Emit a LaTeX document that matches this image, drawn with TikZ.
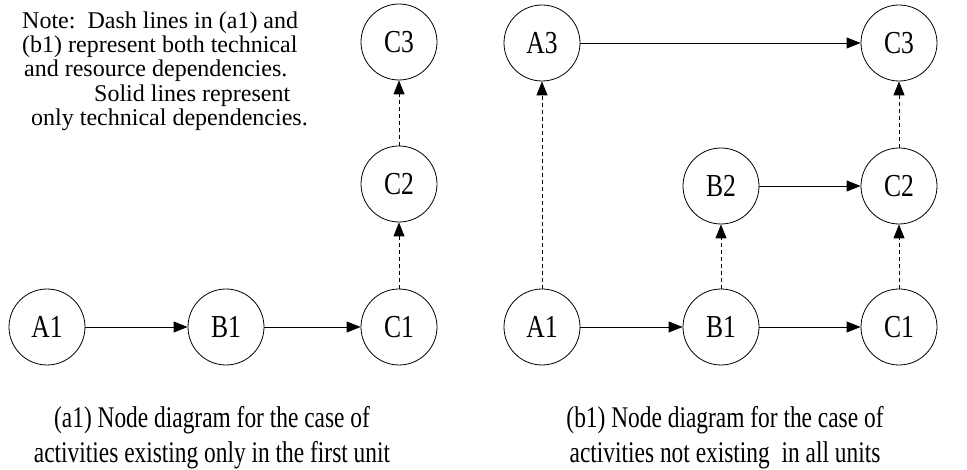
\documentclass[tikz,border=0pt]{standalone}
\usepackage{fontspec}
\setmainfont{Liberation Serif}
\newfontfamily\capfont[FakeStretch=0.78]{Liberation Serif}
\newfontfamily\nodefont[FakeStretch=0.8]{Liberation Serif}
\usetikzlibrary{arrows.meta, positioning}
\tikzset{
    actnode/.style={
        circle, draw, line width=0.8pt, minimum size=76pt, inner sep=0pt,
        font=\nodefont\fontsize{32}{34}\selectfont
    },
    techdep/.style={
        -{Triangle[length=14pt,width=11pt]}, line width=0.8pt
    },
    resdep/.style={
        techdep, dash pattern=on 4pt off 3pt
    },
    captext/.style={
        align=center, anchor=base, font=\capfont\fontsize{30}{35}\selectfont
    }
}

\begin{document}
\begin{tikzpicture}[x=1pt, y=-1pt]
    \useasboundingbox (0,0) rectangle (967,470);

    % --- note (anchored at the baseline of its last line) ---
    \node[anchor=base west, align=left, inner sep=0pt,
          font=\fontsize{24}{24.3}\selectfont] (note) at (22,125.5)
        {Note:\ \ Dash lines in (a1) and\\
         (b1) represent both technical\\
         \hspace*{2pt}and resource dependencies.\\
         \hspace*{72pt}Solid lines represent\\
         \hspace*{9pt}only technical dependencies.};

    % --- (a1) ---
    \node[actnode] (a1A1) at (47,327) {A1};
    \node[actnode] (a1B1) at (226,327) {B1};
    \node[actnode] (a1C1) at (399,327) {C1};
    \node[actnode] (a1C2) at (399,184) {C2};
    \node[actnode] (a1C3) at (399,42) {C3};

    \draw[techdep] (a1A1) -- (a1B1);
    \draw[techdep] (a1B1) -- (a1C1);
    \draw[resdep] (a1C1) -- (a1C2);
    \draw[resdep] (a1C2) -- (a1C3);

    \node[captext] (capa) at (212,462)
        {(a1) Node diagram for the case of\\
         activities existing only in the first unit};

    % --- (b1) ---
    \node[actnode] (b1A1) at (542,327) {A1};
    \node[actnode] (b1B1) at (721,327) {B1};
    \node[actnode] (b1C1) at (899,327) {C1};
    \node[actnode] (b1A3) at (542,43) {A3};
    \node[actnode] (b1B2) at (721,186) {B2};
    \node[actnode] (b1C2) at (899,186) {C2};
    \node[actnode] (b1C3) at (899,43) {C3};

    \draw[techdep] (b1A1) -- (b1B1);
    \draw[techdep] (b1B1) -- (b1C1);
    \draw[techdep] (b1B2) -- (b1C2);
    \draw[techdep] (b1A3) -- (b1C3);
    \draw[resdep] (b1A1) -- (b1A3);
    \draw[resdep] (b1B1) -- (b1B2);
    \draw[resdep] (b1C1) -- (b1C2);
    \draw[resdep] (b1C2) -- (b1C3);

    \node[captext] (capb) at (725,462)
        {(b1) Node diagram for the case of\\
         activities not existing\ \ in all units};
\end{tikzpicture}
\end{document}
